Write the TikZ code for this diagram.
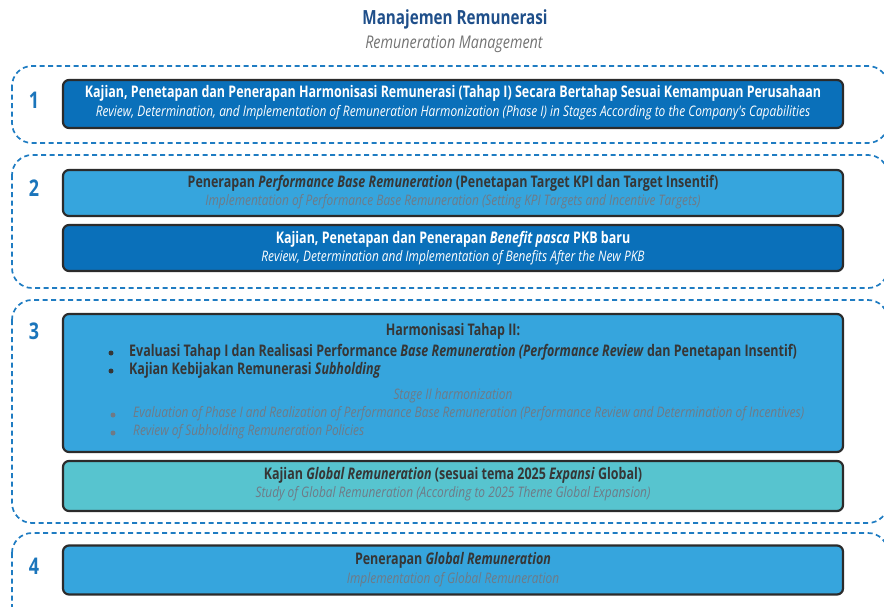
\documentclass[tikz,border=0pt]{standalone}
\usepackage{fontspec}
\setmainfont{Open Sans}[FakeStretch=0.78]
\newfontfamily\subfam{Open Sans}[FakeStretch=0.82]
\definecolor{dblue}{HTML}{0A70BA}
\definecolor{lblue}{HTML}{36A5DD}
\definecolor{tealbox}{HTML}{57C4CF}
\definecolor{dashblue}{HTML}{1F7CC2}
\definecolor{numblue}{HTML}{1B75BB}
\definecolor{titleblue}{HTML}{1F4F8A}
\definecolor{txtdark}{HTML}{363636}
\definecolor{txtgray}{HTML}{6F7A86}
\begin{document}
\begin{tikzpicture}[x=1pt,y=-1pt,
  group/.style={draw=dashblue, line width=1.7pt, dash pattern=on 5pt off 3.5pt, rounded corners=20pt},
  box/.style={draw=black!83, line width=2.2pt, rounded corners=6pt, minimum width=780pt, inner sep=0pt},
  num/.style={text=numblue, font=\fontsize{23}{27}\selectfont\bfseries, inner sep=0pt},
  hd/.style={font=\fontsize{16}{19}\selectfont\bfseries, inner sep=0pt},
  sub/.style={font=\subfam\fontsize{14.5}{17}\selectfont\itshape, inner sep=0pt},
  bul/.style={circle, inner sep=0pt, minimum size=5pt},
  dk/.style={text=txtdark},
  gy/.style={text=txtgray},
  wt/.style={text=white}]
\useasboundingbox (0,0) rectangle (884,606);
\clip (0,0) rectangle (884,606);
% title
\node[text=titleblue, font=\fontsize{19.5}{23}\selectfont\bfseries, inner sep=0pt] (title) at (455,19) {Manajemen Remunerasi};
\node[text=black!55, font=\subfam\fontsize{17.5}{21}\selectfont\itshape, inner sep=0pt] (subtitle) at (454,44) {Remuneration Management};
% groups
\draw[group] (12,66) rectangle (888,143);
\draw[group] (12,155) rectangle (888,288);
\draw[group] (12,300) rectangle (888,523);
\draw[group] (12,533) rectangle (888,650);
% numbers
\node[num] (n1) at (34,100) {1};
\node[num] (n2) at (34,188) {2};
\node[num] (n3) at (34,331) {3};
\node[num] (n4) at (34,566) {4};
% box 1
\node[box, fill=dblue, minimum height=48pt] (b1) at (453,104) {};
\node[hd, wt] (b1a) at (453,93) {Kajian, Penetapan dan Penerapan Harmonisasi Remunerasi (Tahap I) Secara Bertahap Sesuai Kemampuan Perusahaan};
\node[sub, wt] (b1b) at (453,113) {Review, Determination, and Implementation of Remuneration Harmonization (Phase I) in Stages According to the Company's Capabilities};
% box 2a
\node[box, fill=lblue, minimum height=46pt] (b2) at (453,193) {};
\node[hd, dk] (b2a) at (453,183) {Penerapan \textit{Performance Base Remuneration} (Penetapan Target KPI dan Target Insentif)};
\node[sub, gy] (b2b) at (453,202) {Implementation of Performance Base Remuneration (Setting KPI Targets and Incentive Targets)};
% box 2b
\node[box, fill=dblue, minimum height=46pt] (b3) at (453,248) {};
\node[hd, wt] (b3a) at (453,239) {Kajian, Penetapan dan Penerapan \textit{Benefit pasca} PKB baru};
\node[sub, wt] (b3b) at (453,258) {Review, Determination and Implementation of Benefits After the New PKB};
% box 3a
\node[box, fill=lblue, minimum height=138pt] (b4) at (453,383) {};
\node[hd, dk] (b4a) at (453,331) {Harmonisasi Tahap II:};
\node[bul, fill=txtdark] (b4d1) at (111,353) {};
\node[hd, dk, anchor=west] (b4b) at (129,352) {Evaluasi Tahap I dan Realisasi Performance \textit{Base Remuneration (Performance Review} dan Penetapan Insentif)};
\node[bul, fill=txtdark] (b4d2) at (111,371) {};
\node[hd, dk, anchor=west] (b4c) at (129,370) {Kajian Kebijakan Remunerasi \textit{Subholding}};
\node[sub, gy] (b4e) at (453,396) {Stage II harmonization};
\node[bul, fill=txtgray] (b4d3) at (113,415) {};
\node[sub, gy, anchor=west] (b4f) at (133,414) {Evaluation of Phase I and Realization of Performance Base Remuneration (Performance Review and Determination of Incentives)};
\node[bul, fill=txtgray] (b4d4) at (113,433) {};
\node[sub, gy, anchor=west] (b4g) at (133,432) {Review of Subholding Remuneration Policies};
% box 3b
\node[box, fill=tealbox, minimum height=50pt] (b5) at (453,486) {};
\node[hd, dk] (b5a) at (453,475) {Kajian \textit{Global Remuneration} (sesuai tema 2025 \textit{Expansi} Global)};
\node[sub, gy] (b5b) at (453,494) {Study of Global Remuneration (According to 2025 Theme Global Expansion)};
% box 4
\node[box, fill=lblue, minimum height=49pt] (b6) at (453,570) {};
\node[hd, dk] (b6a) at (453,560) {Penerapan \textit{Global Remuneration}};
\node[sub, gy] (b6b) at (453,580) {Implementation of Global Remuneration};
\end{tikzpicture}
\end{document}
